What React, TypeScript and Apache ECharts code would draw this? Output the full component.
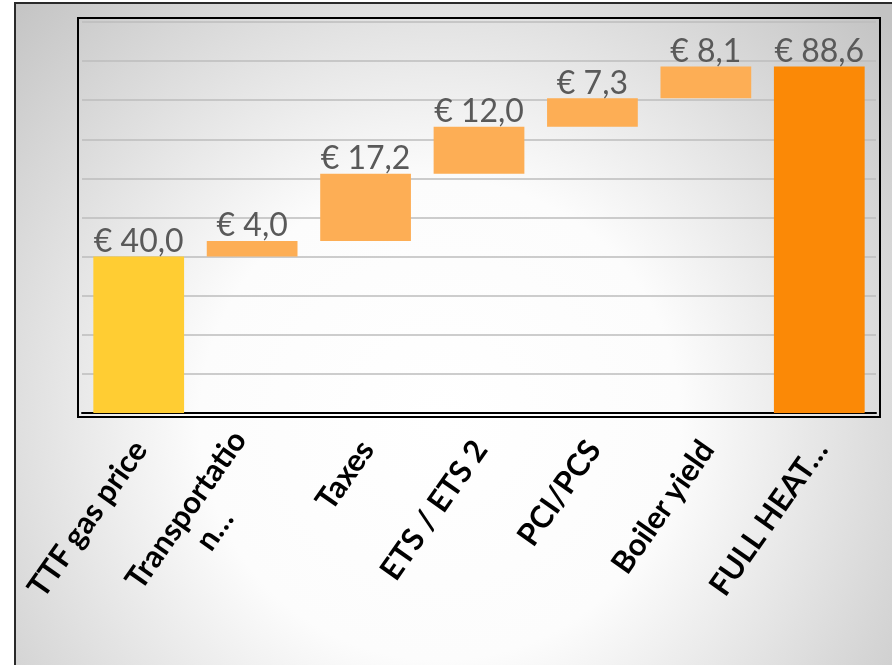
import React, { useEffect, useRef } from 'react';
import * as echarts from 'echarts';

const categories = ['TTF gas price', 'Transportatio\nn…', 'Taxes', 'ETS / ETS 2', 'PCI/PCS', 'Boiler yield', 'FULL HEAT…'];
const values = [40.0, 4.0, 17.2, 12.0, 7.3, 8.1, 88.6];
const kinds = ['start', 'increase', 'increase', 'increase', 'increase', 'increase', 'total'];
const kindColors: Record<string, string> = { start: '#FFCD33', increase: '#FDAE55', total: '#FB8906' };

export default function App() {
  const ref = useRef<HTMLDivElement>(null);
  useEffect(() => {
    const chart = echarts.init(ref.current!, null, { renderer: 'svg' });
    const bases: number[] = [];
    let run = 0;
    values.forEach((v, i) => {
      if (kinds[i] === 'total' || kinds[i] === 'start') {
        bases.push(0);
        run = v;
      } else {
        bases.push(run);
        run += v;
      }
    });
    const fmt = (v: number) => '€ ' + v.toFixed(1).replace('.', ',');
    const option = {
      animation: false,
      graphic: [
        {
          type: 'rect',
          z: -10,
          shape: { x: 15, y: 3, width: 900, height: 700 },
          style: {
            fill: {
              type: 'radial', x: 440, y: 420, r: 600, global: true,
              colorStops: [
                { offset: 0, color: '#ffffff' },
                { offset: 0.4, color: '#fcfcfc' },
                { offset: 1, color: '#c3c3c3' },
              ],
            },
            stroke: '#2a2a2a',
            lineWidth: 2,
          },
        },
        {
          type: 'rect',
          z: 10,
          shape: { x: 78, y: 18, width: 802, height: 399 },
          style: { fill: 'none', stroke: '#000', lineWidth: 2 },
        },
      ],
      grid: { left: 82, right: 16, top: 22, bottom: 252, containLabel: false },
      xAxis: {
        type: 'category',
        data: categories,
        axisTick: { show: false },
        axisLine: { lineStyle: { color: '#000', width: 2 } },
        axisLabel: {
          interval: 0,
          rotate: 55,
          margin: 30,
          color: '#000',
          fontSize: 31,
          fontWeight: 'bold',
          fontFamily: 'Lato',
          formatter: (v: string) => {
            const parts = v.split('\n');
            if (parts.length > 1) return '{a|' + parts[0] + '}\n{b|' + parts[1] + '}';
            return v;
          },
          rich: {
            a: { fontSize: 31, fontWeight: 'bold', fontFamily: 'Lato', color: '#000', lineHeight: 35 },
            b: { fontSize: 31, fontWeight: 'bold', fontFamily: 'Lato', color: '#000', lineHeight: 35, align: 'center' },
          },
        },
      },
      yAxis: {
        type: 'value',
        min: 0,
        max: 100,
        interval: 10,
        axisLabel: { show: false },
        axisLine: { show: false },
        axisTick: { show: false },
        splitLine: { lineStyle: { color: '#BDBDBD', width: 1.5 } },
      },
      series: [
        {
          type: 'bar',
          stack: 'w',
          silent: true,
          itemStyle: { color: 'transparent' },
          data: bases,
          barCategoryGap: '20%',
        },
        {
          type: 'bar',
          stack: 'w',
          barCategoryGap: '20%',
          data: values.map((v, i) => ({ value: v, itemStyle: { color: kindColors[kinds[i]] } })),
          label: {
            show: true,
            position: 'top',
            distance: 1,
            color: '#595959',
            fontSize: 32,
            fontFamily: 'Lato',
            formatter: (p: any) => fmt(p.value),
          },
        },
      ],
    };
    chart.setOption(option as any);
    return () => chart.dispose();
  }, []);
  return <div ref={ref} style={{ position: 'fixed', left: 0, top: 0, width: 892, height: 665 }} />;
}
